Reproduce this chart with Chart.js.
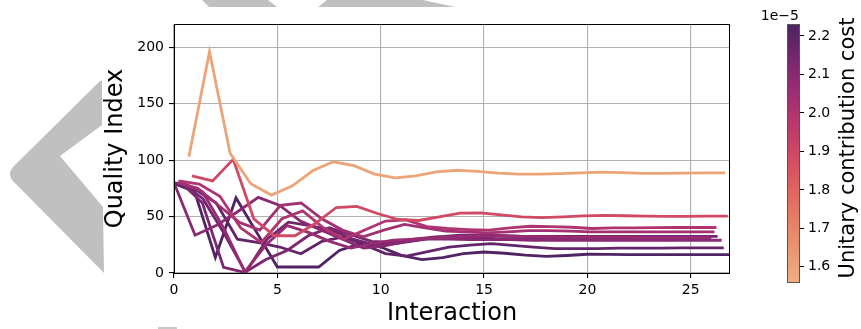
<!DOCTYPE html>
<html>
<head>
<meta charset="utf-8">
<script src="https://cdn.jsdelivr.net/npm/chart.js@4.4.1/dist/chart.umd.min.js"></script>
<style>
  html, body { margin: 0; padding: 0; background: #fff; }
  #wrap { position: relative; width: 861px; height: 329px; overflow: hidden; }
  #wrap svg, #wrap canvas { position: absolute; top: 0; }
  #bg, #main { left: 0; }
  #cbar { left: 740px; }
</style>
</head>
<body>
<div id="wrap">
  <svg id="bg" width="861" height="329">
    <path d="M100 81 L102 81 L102 125 L60 156 L103 207 L104 273 L13 181 Q7 174 13 167 Z" fill="#c0c0c0"/>
    <path d="M202 0 L268 0 L277 7 L209 7 Z" fill="#c0c0c0"/>
    <path d="M327 0 L423 0 L455 7 L318 7 Z" fill="#c0c0c0"/>
    <rect x="158" y="327" width="19" height="2" fill="#c8c8c8"/>
  </svg>
  <canvas id="main" width="861" height="329"></canvas>
  <canvas id="cbar" width="121" height="329"></canvas>
</div>
<script>
// ticks
var xTicks = [0, 5, 10, 15, 20, 25];
var yTicks = [0, 50, 100, 150, 200];
var costTicks = [1.6, 1.7, 1.8, 1.9, 2.0, 2.1, 2.2];
var costMin = 1.558, costMax = 2.231;

// quality index per interaction, one array per run
var qOrange = [103, 196, 106, 79, 69, 77, 90.5, 98.5, 95, 87.6, 84.3, 86, 89.6, 91, 90, 88.5, 87.6, 87.5, 88, 88.7, 89.3, 88.8, 88.2, 88.3, 88.5, 88.6, 88.7];
var qRed = [86, 81.5, 100.6, 48, 33, 33, 44, 58, 59, 52.7, 47.4, 46.5, 49.7, 53, 53.2, 51.5, 49.7, 49, 49.7, 50.5, 51, 50.7, 50.3, 50.2, 50.2, 50.3, 50.3];
var qP1 = [79.3, 72, 13.7, 66.5, 36, 5.3, 5.3, 5.3, 20, 26, 23, 15.6, 11.9, 13.6, 17.1, 18.6, 17.5, 15.8, 14.8, 15.5, 16.6, 16.5, 16.3, 16.3, 16.3, 16.2, 16.3, 16.3];
var qP2 = [80, 74, 62, 30, 27, 23, 17, 28, 32, 25, 17.2, 15, 19, 23, 24.6, 26, 24.5, 23, 21.6, 21.5, 21.5, 22, 22, 22, 22.2, 22.2, 22.2];
var qP3 = [81.6, 78.7, 68, 40, 27, 48, 55, 40, 30, 38, 46, 47, 41, 39.4, 38.5, 37.9, 40, 41.4, 41, 40.5, 39.4, 40, 40, 40.2, 40.3, 40.3, 40.3];
var qP4 = [80, 75, 60, 45, 38, 60, 62, 48, 38, 32, 38, 43, 40, 37, 36.4, 35.5, 36.5, 37.5, 37.5, 37, 36.5, 36.5, 36.4, 36.4, 36.4, 36.4, 36.4];
var qP5 = [80, 72, 40, 1, 25, 42, 36, 28, 22, 26, 29, 30, 31, 32, 33, 33, 32.5, 32, 31.5, 31.5, 31.5, 31.5, 31.4, 31.4, 31.4, 31.4];
var qP6 = [80, 33.5, 42, 54, 67, 60, 46, 38, 30, 22, 24, 28, 30, 30, 29.5, 29.5, 29.5, 29, 29, 29, 29, 29, 29, 29, 29, 29, 29];
var qP7 = [80, 62, 5, 0.5, 12, 20, 33, 40, 34, 28, 27, 30, 32, 31.5, 31, 30.5, 30.5, 30, 30, 30, 30, 30, 30, 30, 30, 30];
var qP8 = [80, 66, 35, 0.5, 30, 45, 42, 38, 30, 25, 26, 29, 32, 33.5, 33.5, 33, 32.5, 32.5, 32.5, 32.5, 32.5, 32.5, 32.5, 32.5, 32.5, 32.5];

var runQuality = [qOrange, qRed, qP3, qP4, qP5, qP6, qP7, qP8, qP2, qP1];
var runCost = [1.60, 1.89, 2.00, 2.04, 2.07, 2.10, 2.13, 2.15, 2.18, 2.22];
var runStartX = [0.72, 0.87, 0.22, 0.15, 0.35, 0, 0.35, 0.35, 0, 0];
var runStepX = [0.998, 0.997, 1.001, 1.0, 1.026, 1.019, 1.024, 1.038, 1.023, 1.0];

// flare-like colour map
var flareStops = [[237,176,129],[234,151,113],[230,125,101],[223,97,94],[208,72,100],[183,55,110],[154,45,115],[117,37,111],[75,35,98]];
function flareColor(t) {
  t = Math.max(0, Math.min(1, t));
  var p = t * (flareStops.length - 1);
  var i = Math.min(Math.floor(p), flareStops.length - 2);
  var f = p - i;
  var a = flareStops[i], b = flareStops[i + 1];
  return 'rgb(' + Math.round(a[0] + (b[0] - a[0]) * f) + ',' + Math.round(a[1] + (b[1] - a[1]) * f) + ',' + Math.round(a[2] + (b[2] - a[2]) * f) + ')';
}
function costColor(c) { return flareColor((c - costMin) / (costMax - costMin)); }

Chart.defaults.font.family = "'DejaVu Sans', sans-serif";
Chart.defaults.color = '#000';

var datasets = runQuality.map(function (vals, r) {
  return {
    data: vals.map(function (v, i) { return { x: runStartX[r] + i * runStepX[r], y: v }; }),
    borderColor: costColor(runCost[r]),
    borderWidth: 2.8,
    pointRadius: 0,
    tension: 0,
    fill: false
  };
});

var framePlugin = {
  id: 'frame',
  afterDatasetsDraw: function (chart) {
    var a = chart.chartArea, ctx = chart.ctx;
    ctx.save();
    ctx.strokeStyle = '#000';
    ctx.lineWidth = 1;
    ctx.strokeRect(a.left + 0.5, a.top + 0.5, a.right - a.left - 1, a.bottom - a.top);
    ctx.restore();
  }
};

new Chart(document.getElementById('main'), {
  type: 'line',
  data: { datasets: datasets },
  options: {
    responsive: false,
    animation: false,
    devicePixelRatio: 1,
    layout: { padding: { left: 0, right: 131, top: 24, bottom: 0 } },
    plugins: { legend: { display: false }, tooltip: { enabled: false } },
    scales: {
      x: {
        type: 'linear',
        min: 0,
        max: 26.9,
        afterBuildTicks: function (axis) { axis.ticks = xTicks.map(function (v) { return { value: v }; }); },
        afterFit: function (scale) { scale.height = 56; },
        ticks: { font: { size: 14 }, padding: 4, maxRotation: 0 },
        grid: { color: '#b0b0b0', lineWidth: 1.1, tickColor: '#000', tickLength: 5 },
        border: { display: false },
        title: { display: true, text: 'Interaction', font: { size: 24 }, padding: { top: 0, bottom: 1 } }
      },
      y: {
        min: 0,
        max: 220.5,
        afterBuildTicks: function (axis) { axis.ticks = yTicks.map(function (v) { return { value: v }; }); },
        afterFit: function (scale) { scale.width = 174; },
        ticks: { font: { size: 14 }, padding: 5 },
        grid: { color: '#b0b0b0', lineWidth: 1.1, tickColor: '#000', tickLength: 5 },
        border: { display: false },
        title: { display: true, text: 'Quality Index', font: { size: 24 }, padding: { top: 101, bottom: 0 } }
      }
    }
  },
  plugins: [framePlugin]
});

var colorbarPlugin = {
  id: 'colorbar',
  beforeDatasetsDraw: function (chart) {
    var a = chart.chartArea, ctx = chart.ctx;
    var grad = ctx.createLinearGradient(0, a.bottom, 0, a.top);
    for (var k = 0; k <= 40; k++) { grad.addColorStop(k / 40, flareColor(k / 40)); }
    ctx.save();
    ctx.fillStyle = grad;
    ctx.fillRect(a.left, a.top, a.right - a.left, a.bottom - a.top);
    ctx.strokeStyle = '#555';
    ctx.lineWidth = 1;
    ctx.strokeRect(a.left + 0.5, a.top + 0.5, a.right - a.left - 1, a.bottom - a.top - 1);
    ctx.restore();
  },
  afterDraw: function (chart) {
    var ctx = chart.ctx;
    ctx.save();
    ctx.fillStyle = '#000';
    ctx.font = "14px 'DejaVu Sans', sans-serif";
    ctx.textAlign = 'right';
    ctx.textBaseline = 'alphabetic';
    ctx.fillText('1e\u22125', 59, 20);
    ctx.font = "21px 'DejaVu Sans', sans-serif";
    ctx.translate(109, 148);
    ctx.rotate(-Math.PI / 2);
    ctx.textAlign = 'center';
    ctx.textBaseline = 'middle';
    ctx.fillText('Unitary contribution cost', 0, 0);
    ctx.restore();
  }
};

new Chart(document.getElementById('cbar'), {
  type: 'line',
  data: { datasets: [] },
  options: {
    responsive: false,
    animation: false,
    devicePixelRatio: 1,
    layout: { padding: { left: 47, right: 0, top: 24, bottom: 46 } },
    plugins: { legend: { display: false }, tooltip: { enabled: false } },
    scales: {
      x: { type: 'linear', display: false, min: 0, max: 1 },
      y: {
        position: 'right',
        min: costMin,
        max: costMax,
        afterBuildTicks: function (axis) { axis.ticks = costTicks.map(function (v) { return { value: v }; }); },
        afterFit: function (scale) { scale.width = 61; },
        ticks: { font: { size: 14 }, padding: 4, callback: function (v) { return v.toFixed(1); } },
        grid: { drawOnChartArea: false, tickColor: '#000', tickLength: 4 },
        border: { display: false }
      }
    }
  },
  plugins: [colorbarPlugin]
});
</script>
</body>
</html>
